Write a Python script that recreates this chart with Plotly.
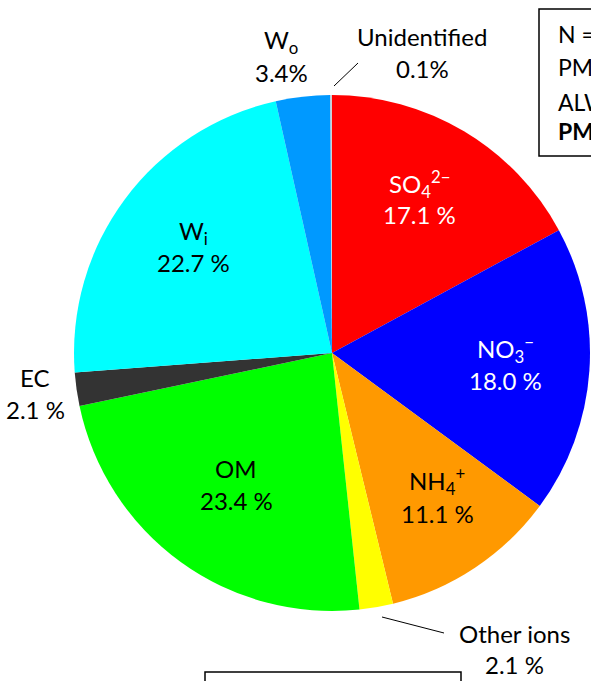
import plotly.graph_objects as go

W, H = 591, 681

categories = ["SO4", "NO3", "NH4", "Other ions", "OM", "EC", "Wi", "Wo", "Unidentified"]
values = [17.1, 18.0, 11.1, 2.1, 23.4, 2.1, 22.7, 3.4, 0.1]
colors = ["#FF0000", "#0000FF", "#FF9900", "#FFFF00", "#00FF00", "#333333",
          "#00FFFF", "#0099FF", "#D0D0D0"]

label_names = ["SO<sub>4</sub><sup>2−</sup>", "NO<sub>3</sub><sup>−</sup>", "NH<sub>4</sub><sup>+</sup>",
               "Other ions", "OM", "EC", "W<sub>i</sub>", "W<sub>o</sub>", "Unidentified"]
label_values = ["17.1 %", "18.0 %", "11.1 %", "2.1 %", "23.4 %", "2.1 %", "22.7 %", "3.4%", "0.1%"]
label_colors = ["white", "white", "black", "black", "black", "black", "black", "black", "black"]
# pixel positions of label name / value (x, y_name, y_value)
label_pos = [(419, 184, 214), (505, 349, 380), (437, 481, 513), (514, 633, 664),
             (236, 468, 500), (35, 377, 409), (193, 232, 262), (281, 41, 72), (422, 37, 68)]

FONT = "Lato"
FS = 24

def px(x):
    return x / W

def py(y):
    return 1 - y / H

cx, cy, r = 332, 353, 258

fig = go.Figure(go.Pie(
    labels=categories, values=values, sort=False, direction="clockwise", rotation=0,
    marker=dict(colors=colors, line=dict(width=0)),
    textinfo="none", hoverinfo="label+percent", showlegend=False,
    domain=dict(x=[px(cx - r), px(cx + r)], y=[py(cy + r), py(cy - r)]),
))

annotations = []
for name, val, col, (x, yn, yv) in zip(label_names, label_values, label_colors, label_pos):
    annotations.append(dict(x=px(x), y=py(yn), xref="paper", yref="paper", text=name,
                            showarrow=False, xanchor="center", yanchor="middle",
                            font=dict(family=FONT, size=FS, color=col)))
    annotations.append(dict(x=px(x), y=py(yv), xref="paper", yref="paper", text=val,
                            showarrow=False, xanchor="center", yanchor="middle",
                            font=dict(family=FONT, size=FS, color=col)))

# info box text (cut off at the right edge in the reference)
box_lines = ["N = 96", "PM<sub>2.5</sub> = 52.3 μg m<sup>−3</sup>", "ALWC = 31.5 μg m<sup>−3</sup>",
             "<b>PM<sub>2.5</sub>*</b>"]
box_y = [34, 67, 100, 133]
for t, y in zip(box_lines, box_y):
    annotations.append(dict(x=px(556), y=py(y), xref="paper", yref="paper", text=t,
                            showarrow=False, xanchor="left", yanchor="middle",
                            font=dict(family=FONT, size=FS - 1, color="black")))

shapes = [
    dict(type="rect", xref="paper", yref="paper", x0=px(539), x1=1.3, y0=py(156), y1=py(9),
         line=dict(color="black", width=1.5), fillcolor="rgba(0,0,0,0)"),
    dict(type="rect", xref="paper", yref="paper", x0=px(205), x1=px(461), y0=-0.2, y1=py(672),
         line=dict(color="black", width=1.5), fillcolor="rgba(0,0,0,0)"),
    dict(type="line", xref="paper", yref="paper", x0=px(334), y0=py(86), x1=px(358), y1=py(63),
         line=dict(color="black", width=1)),
    dict(type="line", xref="paper", yref="paper", x0=px(382), y0=py(617), x1=px(444), y1=py(633),
         line=dict(color="black", width=1)),
]

fig.update_layout(
    width=W, height=H, margin=dict(l=0, r=0, t=0, b=0),
    paper_bgcolor="white", plot_bgcolor="white",
    annotations=annotations, shapes=shapes,
)

fig.write_html("out.html", config={"displayModeBar": False},
               post_script="document.body.style.margin='0';document.body.style.overflow='hidden';")
